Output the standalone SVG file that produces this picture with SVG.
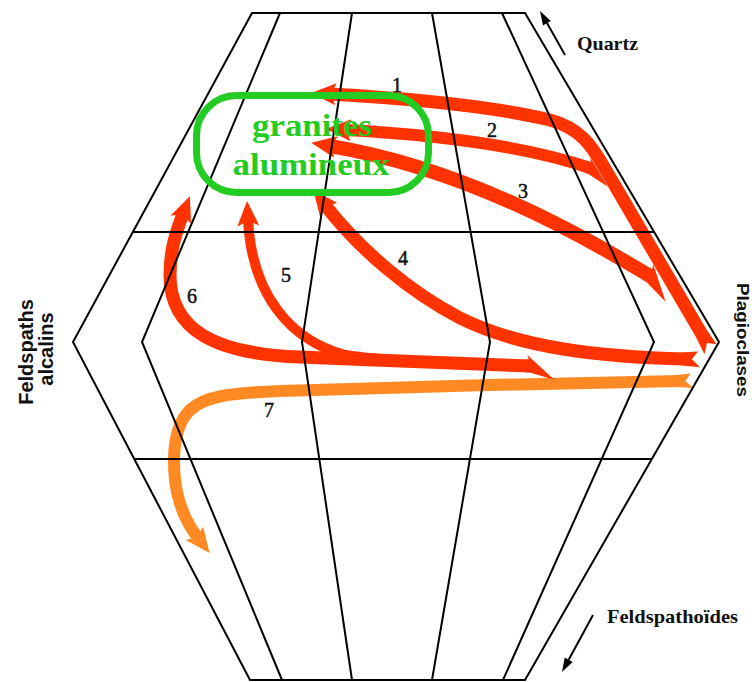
<svg xmlns="http://www.w3.org/2000/svg" width="752" height="682" viewBox="0 0 752 682">
<style>
.grid{fill:none;stroke:#000;stroke-width:2;stroke-linejoin:miter}
.band{fill:none;stroke-linejoin:round;stroke-linecap:butt}
.red{stroke:#ff3300}
.org{stroke:#ff8a24}
.num{font-family:"Liberation Serif","Times New Roman",serif;font-size:20px;fill:#111;stroke:#111;stroke-width:0.5;text-anchor:middle}
.lblS{font-family:"Liberation Serif","Times New Roman",serif;font-weight:bold;fill:#111}
.lblA{font-family:"Liberation Sans",Arial,sans-serif;font-weight:bold;fill:#111}
.green{font-family:"Liberation Serif","Times New Roman",serif;font-weight:bold;font-size:32px;fill:#22cc22;text-anchor:middle}
</style>
<defs>
<marker id="headR" viewBox="0 -12 26 24" refX="6" refY="0" markerWidth="26" markerHeight="24" markerUnits="userSpaceOnUse" orient="auto"><path d="M0,-11 L25,0 L0,11 L5,0 Z" fill="#ff3300"/></marker>
<marker id="headO" viewBox="0 -12 26 24" refX="6" refY="0" markerWidth="26" markerHeight="24" markerUnits="userSpaceOnUse" orient="auto"><path d="M0,-11 L25,0 L0,11 L5,0 Z" fill="#ff8a24"/></marker>
<marker id="tailBarbR" viewBox="-3 -2 4 4" refX="0" refY="0" markerWidth="4" markerHeight="4" markerUnits="strokeWidth" orient="auto"><path d="M0.3,0.5 L0.1,0.5 L0.25,0.85 L-1.9,-1.0 L0,-0.5 L0.3,-0.5 Z" fill="#ff3300"/></marker>
<marker id="tailSwR" viewBox="-3 -2 4 4" refX="0" refY="0" markerWidth="4" markerHeight="4" markerUnits="strokeWidth" orient="auto"><path d="M0.3,0.5 L-0.9,0.6 L-0.45,0 L-1.1,-0.6 L0.3,-0.5 Z" fill="#ff3300"/></marker>
<marker id="tailSwO" viewBox="-3 -2 4 4" refX="0" refY="0" markerWidth="4" markerHeight="4" markerUnits="strokeWidth" orient="auto"><path d="M0.3,0.5 L-0.9,0.6 L-0.45,0 L-1.1,-0.6 L0.3,-0.5 Z" fill="#ff8a24"/></marker>
</defs>

<g id="connectors">
  <path id="arrow7" class="band org" stroke-width="12" d="M680,381 C560,383 400,387 280,391 C230,393 205,396 190,410 C175,425 172,450 175,480 C178,505 188,525 198,538" marker-start="url(#tailSwO)" marker-end="url(#headO)"/>
  <path id="arrow4" class="band red" stroke-width="13" d="M686,359 C600,357 520,348 460,318 C410,292 360,250 325,205" marker-start="url(#tailSwR)" marker-end="url(#headR)"/>
  <path id="arrow5" class="band red" stroke-width="10" d="M530,366 C470,364 390,362 345,355 C290,340 252,295 248,220" marker-end="url(#headR)"/>
  <path id="arrow6" class="band red" stroke-width="13" d="M530,366 C470,364 380,360 300,357 C215,354 170,330 170,275 C170,250 176,232 183,214" marker-start="url(#tailBarbR)" marker-end="url(#headR)"/>
  <path id="arrow3" class="band red" stroke-width="14" d="M650,276 C570,228 460,168 330,146" marker-start="url(#tailBarbR)" marker-end="url(#headR)"/>
  <path id="arrow2" class="band red" stroke-width="12" d="M590,168 C540,151 460,136 345,130" marker-start="url(#tailBarbR)" marker-end="url(#headR)"/>
  <path id="arrow1" class="band red" stroke-width="13" d="M704,338 L604,167 C592,146 580,128 550,120 C500,108 420,99 330,94" marker-start="url(#tailSwR)" marker-end="url(#headR)"/>
</g>

<g id="grid" class="grid">
  <polygon points="252,13 525,13 719,342 525,680 250,680 73,342"/>
  <polyline points="280,13 142,342 282,680"/>
  <polyline points="352,13 302,342 352,680"/>
  <polyline points="432,13 490,342 432,680"/>
  <polyline points="502,13 654,342 503,680"/>
  <line x1="133" y1="232" x2="654" y2="232"/>
  <line x1="134" y1="459" x2="652" y2="459"/>
</g>

<g id="granites-alumineux">
  <rect x="196.5" y="95.5" width="232" height="97" rx="40" ry="40" fill="none" stroke="#22cc22" stroke-width="7"/>
  <text class="green" x="312" y="136" textLength="120" lengthAdjust="spacingAndGlyphs">granites</text>
  <text class="green" x="311" y="175" textLength="157" lengthAdjust="spacingAndGlyphs">alumineux</text>
</g>

<g id="numbers">
  <text class="num" x="397" y="92">1</text>
  <text class="num" x="492" y="137">2</text>
  <text class="num" x="523" y="198">3</text>
  <text class="num" x="403" y="265">4</text>
  <text class="num" x="286" y="282">5</text>
  <text class="num" x="192" y="303">6</text>
  <text class="num" x="269" y="417">7</text>
</g>

<g id="quartz">
  <line x1="565" y1="55" x2="547" y2="23" stroke="#000" stroke-width="2"/>
  <polygon points="540,11 550.8,21 543,25.4" fill="#000"/>
  <text class="lblS" x="577" y="50" font-size="19" textLength="61" lengthAdjust="spacingAndGlyphs">Quartz</text>
</g>

<g id="feldspathoides">
  <line x1="593" y1="615" x2="568.7" y2="659.7" stroke="#000" stroke-width="2"/>
  <polygon points="562,672 572.7,661.9 564.7,657.5" fill="#000"/>
  <text class="lblS" x="607" y="623" font-size="19" textLength="131" lengthAdjust="spacingAndGlyphs">Feldspathoïdes</text>
</g>

<g id="plagioclases">
  <text class="lblA" transform="translate(737,283) rotate(90)" font-size="17" textLength="114" lengthAdjust="spacingAndGlyphs">Plagioclases</text>
</g>

<g id="feldspaths-alcalins">
  <text class="lblA" transform="translate(33,352) rotate(-90)" font-size="20" text-anchor="middle">Feldspaths</text>
  <text class="lblA" transform="translate(53,349) rotate(-90)" font-size="20" text-anchor="middle">alcalins</text>
</g>
</svg>
